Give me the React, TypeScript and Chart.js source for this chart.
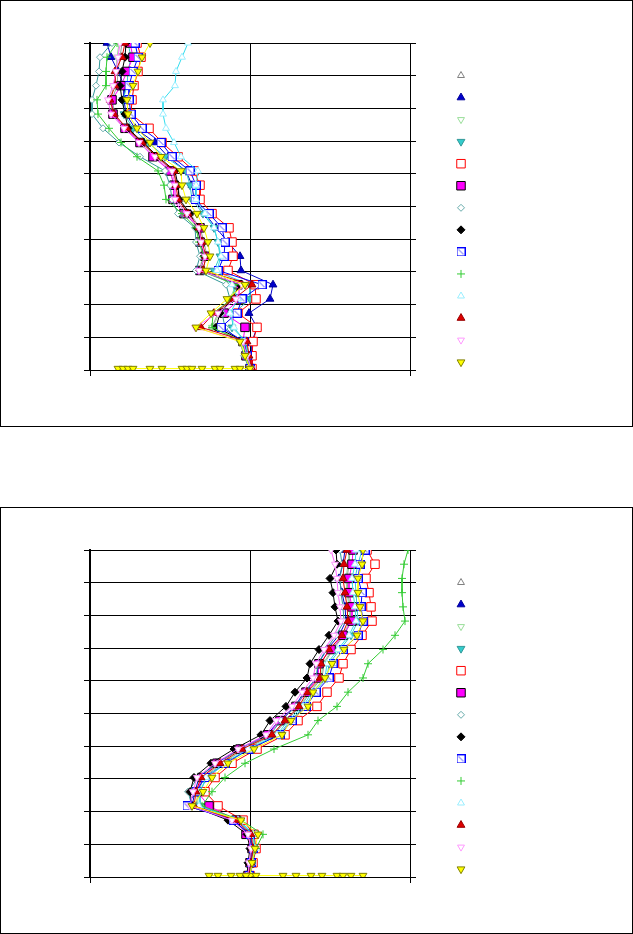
import React, { useEffect, useRef } from 'react';
import { Chart, registerables } from 'chart.js';
import { drawPoint } from 'chart.js/helpers';

Chart.register(...registerables);

// depth levels (top = 0)
const DEPTHS = [0, 1, 2, 3, 4, 5, 6, 7, 8, 9, 10, 11, 12, 13, 14, 15, 16, 17, 18, 19, 20, 21, 22, 22.9];
const BOTTOM_ROW_DEPTH = 22.9;

// ---------- Chart 1 series values ----------
const P1_S01 = [3.2, 3.0, 2.8, 2.7, 2.2, 2.5, 3.6, 5.1, 6.6, 8.3, 8.8, 9.0, 10.0, 11.0, 11.4, 11.7, 11.2, 14.8, 14.3, 12.8, 12.2, 15.3, 15.6, 16.0];
const P1_S02 = [1.7, 2.1, 2.8, 3.4, 3.4, 3.6, 4.5, 6.5, 7.8, 9.6, 10.2, 10.4, 11.5, 12.6, 13.8, 15.0, 15.1, 18.3, 18.0, 15.9, 16.7, 16.2, 16.2, 16.2];
const P1_S03 = [2.9, 2.7, 2.6, 2.4, 2.0, 2.3, 3.4, 4.9, 6.4, 8.0, 8.4, 8.6, 9.6, 10.7, 10.9, 11.3, 10.9, 14.6, 14.0, 13.0, 12.2, 15.4, 15.7, 16.1];
const P1_S04 = [3.8, 4.1, 3.8, 3.7, 3.3, 3.4, 4.3, 5.8, 7.5, 9.6, 10.0, 10.2, 11.3, 12.4, 12.8, 13.0, 12.4, 16.0, 16.0, 14.4, 14.2, 15.6, 15.9, 16.1];
const P1_S05 = [4.7, 5.1, 4.8, 4.4, 4.2, 4.1, 5.9, 7.2, 8.8, 10.4, 11.0, 11.0, 12.2, 13.9, 14.2, 14.3, 13.8, 16.5, 16.6, 14.8, 16.7, 16.3, 16.2, 16.2];
const P1_S06 = [4.0, 4.3, 3.7, 3.1, 2.2, 2.3, 3.5, 5.0, 6.3, 8.0, 8.4, 8.3, 9.4, 11.0, 11.0, 11.5, 11.0, 14.8, 15.0, 13.4, 15.5, 15.3, 15.6, 16.0];
const P1_S07 = [2.2, 1.0, 0.9, 0.6, 0.2, 0.2, 1.3, 2.9, 5.0, 7.5, 8.0, 8.2, 8.8, 10.5, 10.6, 11.0, 10.6, 13.6, 14.0, 13.2, 13.5, 15.0, 15.4, 15.9];
const P1_S08 = [3.6, 3.5, 3.2, 3.0, 3.2, 3.5, 3.8, 5.3, 6.8, 8.5, 8.8, 8.9, 10.0, 10.7, 11.1, 11.4, 11.0, 15.0, 14.2, 13.0, 12.6, 15.5, 15.7, 16.0];
const P1_S09 = [4.5, 4.8, 4.3, 3.9, 3.9, 4.1, 5.2, 7.1, 8.2, 10.0, 10.6, 10.5, 11.9, 13.2, 13.5, 13.4, 12.8, 17.2, 15.2, 14.7, 13.1, 15.4, 15.7, 16.0];
const P1_S10 = [2.7, 1.7, 1.6, 1.6, 0.7, 0.8, 1.9, 3.1, 4.7, 6.8, 7.4, 7.6, 9.2, 10.6, 10.9, 11.4, 11.0, 14.6, 14.2, 12.3, 12.2, 15.2, 15.6, 16.0];
const P1_S11 = [9.8, 9.2, 8.6, 8.5, 7.3, 7.3, 7.6, 8.4, 9.1, 10.8, 10.6, 10.6, 11.5, 12.4, 12.8, 13.1, 12.7, 14.2, 14.8, 14.0, 14.4, 15.5, 15.8, 16.1];
const P1_S12 = [3.5, 3.2, 2.5, 2.5, 2.0, 2.4, 3.7, 5.2, 6.7, 8.4, 8.6, 8.8, 9.8, 10.9, 11.2, 11.6, 11.3, 16.2, 14.4, 12.4, 11.1, 15.7, 15.9, 16.2];
const P1_S13 = [3.0, 2.8, 2.6, 2.3, 1.8, 2.1, 3.4, 4.9, 6.5, 8.2, 8.5, 8.5, 9.7, 10.9, 11.1, 11.5, 10.9, 15.2, 14.6, 12.8, 10.5, 15.3, 15.7, 16.1];
const P1_S14 = [6.0, 5.2, 4.8, 4.3, 3.7, 3.8, 4.7, 6.0, 7.1, 9.1, 9.2, 9.6, 10.7, 11.4, 11.8, 12.0, 11.6, 15.5, 13.7, 12.1, 10.6, 15.0, 15.5, 16.0];
const P1_ROW = [2.8, 3.3, 3.8, 4.3, 6.0, 7.2, 9.2, 9.7, 10.2, 11.2, 12.5, 13.0, 14.5, 15.0, 16.0];

// ---------- Chart 2 series values ----------
const P2_S01 = [26.0, 25.9, 25.7, 25.8, 26.0, 26.1, 25.4, 24.3, 23.4, 23.2, 22.0, 21.1, 19.6, 18.4, 15.5, 13.2, 11.4, 10.8, 10.6, 14.7, 16.2, 16.4, 16.1, 15.9];
const P2_S02 = [25.5, 25.3, 24.9, 25.2, 25.5, 25.6, 24.9, 23.7, 22.8, 22.7, 21.4, 20.5, 18.9, 17.7, 14.9, 12.6, 10.9, 10.5, 10.2, 14.4, 15.9, 16.2, 16.0, 15.8];
const P2_S03 = [25.9, 25.8, 25.6, 25.7, 25.9, 26.0, 25.3, 24.2, 23.3, 23.1, 21.9, 21.0, 19.5, 18.3, 15.4, 13.1, 11.3, 10.9, 10.7, 14.8, 16.3, 16.4, 16.1, 15.9];
const P2_S04 = [27.2, 26.8, 26.5, 26.6, 26.7, 26.8, 26.1, 25.0, 23.9, 23.7, 22.4, 21.5, 20.0, 18.9, 16.0, 13.6, 11.7, 11.0, 11.0, 14.9, 16.4, 16.5, 16.2, 16.0];
const P2_S05 = [27.7, 28.5, 27.6, 27.9, 28.1, 28.2, 27.2, 26.1, 25.3, 24.9, 23.7, 22.7, 20.8, 19.5, 16.7, 14.2, 12.5, 11.5, 12.8, 15.3, 16.4, 16.6, 16.3, 16.0];
const P2_S06 = [26.3, 26.2, 25.9, 25.9, 26.2, 26.2, 25.3, 24.1, 22.9, 22.8, 21.6, 20.6, 19.0, 17.8, 15.0, 12.7, 11.2, 10.7, 11.9, 14.6, 15.6, 16.2, 16.0, 15.8];
const P2_S07 = [25.0, 25.2, 25.0, 25.1, 25.3, 25.4, 24.6, 23.6, 22.8, 22.6, 21.5, 20.6, 19.1, 18.0, 15.0, 12.8, 10.8, 9.8, 10.2, 14.2, 16.0, 16.2, 16.0, 15.8];
const P2_S08 = [24.6, 24.7, 24.0, 24.3, 24.5, 24.8, 23.9, 22.9, 22.0, 21.7, 20.5, 19.6, 18.0, 17.1, 14.4, 12.1, 10.4, 10.0, 10.2, 13.8, 15.7, 16.0, 15.8, 15.7];
const P2_S09 = [27.5, 27.0, 26.8, 27.2, 27.1, 27.3, 26.8, 25.3, 24.3, 23.9, 22.6, 21.6, 20.2, 19.0, 15.9, 13.5, 11.5, 10.6, 9.7, 14.3, 16.0, 16.3, 16.1, 15.9];
const P2_S10 = [31.8, 31.4, 31.2, 31.2, 31.3, 31.5, 30.5, 29.3, 27.8, 27.3, 25.8, 24.7, 22.8, 21.8, 18.4, 15.5, 13.5, 12.2, 11.2, 15.1, 17.3, 16.6, 16.2, 16.0];
const P2_S11 = [26.6, 26.5, 26.2, 26.3, 26.5, 26.6, 25.9, 24.8, 23.7, 23.5, 22.2, 21.3, 19.8, 18.7, 15.8, 13.4, 11.6, 11.0, 10.9, 14.8, 16.3, 16.5, 16.2, 16.0];
const P2_S12 = [25.7, 25.4, 25.3, 25.5, 25.7, 25.8, 25.2, 23.9, 23.1, 23.0, 21.7, 20.9, 19.5, 18.2, 15.2, 13.0, 11.1, 10.6, 10.4, 14.6, 16.1, 16.3, 16.1, 15.9];
const P2_S13 = [24.1, 24.5, 24.7, 24.8, 25.0, 25.1, 24.4, 23.4, 22.6, 22.3, 21.2, 20.2, 18.6, 17.6, 14.8, 12.5, 10.7, 10.3, 10.0, 14.2, 15.8, 16.1, 15.9, 15.8];
const P2_S14 = [27.3, 27.2, 26.8, 26.8, 27.0, 27.3, 26.7, 25.4, 24.2, 23.5, 22.3, 21.8, 20.1, 19.2, 16.4, 13.8, 12.2, 11.3, 10.2, 15.1, 16.8, 16.5, 16.2, 16.0];
const P2_ROW = [11.9, 12.8, 14.1, 15.0, 15.6, 16.6, 19.3, 20.6, 22.1, 23.2, 24.7, 25.3, 26.1, 27.3];

const P1_SERIES = [P1_S01, P1_S02, P1_S03, P1_S04, P1_S05, P1_S06, P1_S07, P1_S08, P1_S09, P1_S10, P1_S11, P1_S12, P1_S13, P1_S14];
const P2_SERIES = [P2_S01, P2_S02, P2_S03, P2_S04, P2_S05, P2_S06, P2_S07, P2_S08, P2_S09, P2_S10, P2_S11, P2_S12, P2_S13, P2_S14];

// ---------- styles ----------
type Sty = { line: string; fill: string; edge: string; shape: string; rot: number; r: number };
const STYLES: Sty[] = [
  { line: '#999999', fill: '#FFFFFF', edge: '#808080', shape: 'triangle', rot: 0, r: 4 },
  { line: '#0000CC', fill: '#0000CC', edge: '#000099', shape: 'triangle', rot: 0, r: 4.5 },
  { line: '#99DD99', fill: '#FFFFFF', edge: '#99DD99', shape: 'triangle', rot: 180, r: 4 },
  { line: '#33CCCC', fill: '#33CCCC', edge: '#339999', shape: 'triangle', rot: 180, r: 4.5 },
  { line: '#FF0000', fill: '#FFFFFF', edge: '#FF0000', shape: 'rect', rot: 0, r: 6 },
  { line: '#FF00FF', fill: '#FF00FF', edge: '#000000', shape: 'rect', rot: 0, r: 6 },
  { line: '#339999', fill: '#FFFFFF', edge: '#66AAAA', shape: 'rectRot', rot: 0, r: 3.5 },
  { line: '#000000', fill: '#000000', edge: '#000000', shape: 'rectRot', rot: 0, r: 4 },
  { line: '#0000FF', fill: '#FFFFFF', edge: '#0000FF', shape: 'boxx', rot: 0, r: 4.5 },
  { line: '#33CC33', fill: '#33CC33', edge: '#33CC33', shape: 'cross', rot: 0, r: 4 },
  { line: '#33DDEE', fill: '#FFFFFF', edge: '#99EEFF', shape: 'triangle', rot: 0, r: 4 },
  { line: '#DD0000', fill: '#DD0000', edge: '#990000', shape: 'triangle', rot: 0, r: 4.5 },
  { line: '#FF66FF', fill: '#FFFFFF', edge: '#FF99FF', shape: 'triangle', rot: 180, r: 4 },
  { line: '#FFFF00', fill: '#FFFF00', edge: '#808000', shape: 'triangle', rot: 180, r: 4.5 },
];

let boxXImg: HTMLCanvasElement | null = null;
function getBoxX(): HTMLCanvasElement {
  if (boxXImg) return boxXImg;
  const c = document.createElement('canvas');
  c.width = 9;
  c.height = 9;
  const g = c.getContext('2d')!;
  g.fillStyle = '#FFFFFF';
  g.fillRect(0, 0, 9, 9);
  g.strokeStyle = '#0000FF';
  g.lineWidth = 1;
  g.strokeRect(0.5, 0.5, 8, 8);
  g.lineWidth = 0.7;
  g.beginPath();
  g.moveTo(2, 2);
  g.lineTo(7, 7);
  g.stroke();
  boxXImg = c;
  return c;
}

function styleOf(s: Sty): any {
  return s.shape === 'boxx' ? getBoxX() : s.shape;
}

const legendPlugin = {
  id: 'markerLegend',
  afterDraw(chart: any) {
    const ctx = chart.ctx;
    ctx.save();
    STYLES.forEach((s, i) => {
      const x = 461;
      const y = 75.5 + i * 22.05;
      ctx.fillStyle = s.fill;
      ctx.strokeStyle = s.edge;
      ctx.lineWidth = 1;
      drawPoint(ctx, { pointStyle: styleOf(s), rotation: s.rot, radius: s.r, borderWidth: 1 } as any, x, y);
    });
    ctx.restore();
  },
};

function ProfileChart({ series, row }: { series: number[][]; row: number[] }) {
  const ref = useRef<HTMLCanvasElement | null>(null);
  useEffect(() => {
    if (!ref.current) return;
    const datasets: any[] = series.map((vals, i) => {
      const s = STYLES[i];
      return {
        label: 'S' + (i + 1),
        data: DEPTHS.map((d, k) => ({ x: vals[k], y: d })),
        showLine: true,
        borderColor: s.line,
        borderWidth: 1,
        backgroundColor: s.fill,
        pointStyle: styleOf(s),
        pointRotation: s.rot,
        pointRadius: s.r,
        pointBackgroundColor: s.fill,
        pointBorderColor: s.edge,
        pointBorderWidth: 1,
        tension: 0,
        clip: 0,
        order: 20 - i,
      };
    });
    const ys = STYLES[13];
    datasets.push({
      label: 'row',
      data: row.map((v) => ({ x: v, y: BOTTOM_ROW_DEPTH })),
      showLine: true,
      borderColor: ys.line,
      borderWidth: 1,
      pointStyle: 'triangle',
      pointRotation: 180,
      pointRadius: ys.r,
      pointBackgroundColor: ys.fill,
      pointBorderColor: ys.edge,
      pointBorderWidth: 1,
      clip: 0,
      order: 0,
    });
    const chart = new Chart(ref.current, {
      type: 'scatter',
      data: { datasets },
      options: {
        responsive: false,
        animation: false,
        events: [],
        layout: { padding: { left: 84, top: 43, right: 217, bottom: 51 } },
        plugins: { legend: { display: false }, tooltip: { enabled: false } },
        scales: {
          x: {
            type: 'linear',
            position: 'bottom',
            min: 0,
            max: 32,
            ticks: { display: false, count: 3 },
            grid: {
              color: '#000000',
              lineWidth: 1,
              tickLength: 6,
              tickColor: (c: any) => (c.index === 1 ? 'rgba(0,0,0,0)' : '#000000'),
            },
            border: { color: '#000000', width: 1 },
          },
          y: {
            type: 'linear',
            position: 'left',
            reverse: true,
            min: 0,
            max: 23,
            ticks: { display: false, count: 11 },
            grid: { color: '#000000', lineWidth: 1, tickLength: 6, tickColor: '#000000' },
            border: { color: '#000000', width: 2 },
          },
          y2: {
            type: 'linear',
            position: 'right',
            reverse: true,
            min: 0,
            max: 23,
            ticks: { display: false, count: 11 },
            grid: { drawOnChartArea: false, lineWidth: 1, tickLength: 6, tickColor: '#000000' },
            border: { color: '#000000', width: 1 },
          },
        },
      } as any,
      plugins: [legendPlugin],
    });
    return () => chart.destroy();
  }, [series, row]);
  return <canvas ref={ref} width={633} height={427} style={{ display: 'block' }} />;
}

function Panel({ top, series, row }: { top: number; series: number[][]; row: number[] }) {
  return (
    <div style={{ position: 'absolute', left: 0, top, width: 633, height: 427 }}>
      <ProfileChart series={series} row={row} />
      <div
        style={{
          position: 'absolute',
          left: 0,
          top: 0,
          width: 633,
          height: 427,
          border: '1px solid #000',
          boxSizing: 'border-box',
          pointerEvents: 'none',
        }}
      />
    </div>
  );
}

export default function App() {
  return (
    <div style={{ position: 'absolute', left: 0, top: 0, width: 633, height: 934, background: '#fff' }}>
      <Panel top={0} series={P1_SERIES} row={P1_ROW} />
      <Panel top={507} series={P2_SERIES} row={P2_ROW} />
    </div>
  );
}
